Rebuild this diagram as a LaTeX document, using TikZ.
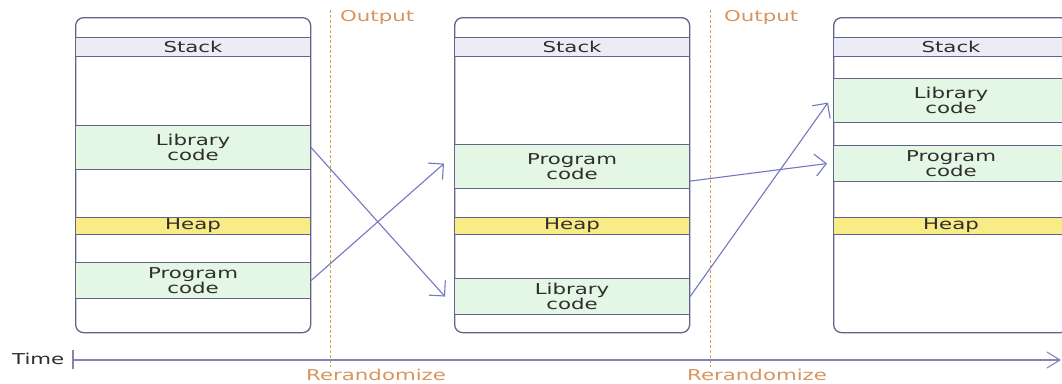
\documentclass[tikz,border=0pt]{standalone}
\usepackage{fontspec}
\setmainfont{DejaVu Sans}[FakeStretch=1.42]
\usetikzlibrary{arrows.meta}
\definecolor{boxc}{HTML}{64648A}
\definecolor{stackc}{HTML}{ECECF6}
\definecolor{greenc}{HTML}{E4F6E4}
\definecolor{heapc}{HTML}{F9EC86}
\definecolor{txtc}{HTML}{2E2E2E}
\definecolor{orangec}{HTML}{D8955E}
\definecolor{dashc}{HTML}{D6A548}
\definecolor{arrc}{HTML}{7676C4}
\definecolor{axisc}{HTML}{8484AE}
\newcommand{\bandfont}{\fontsize{15}{15.3}\selectfont}
\begin{document}
\begin{tikzpicture}[x=1pt,y=-1pt,
  membox/.style={draw=boxc, line width=1.3pt, rounded corners=8pt, fill=white,
    minimum width=235pt, minimum height=315pt, inner sep=0pt, anchor=north west},
  band/.style={draw=boxc, line width=1.1pt, minimum width=235pt, inner sep=0pt,
    anchor=north west, text=txtc, font=\bandfont, align=center},
  stackband/.style={band, fill=stackc, minimum height=19pt},
  codeband/.style={band, fill=greenc},
  heapband/.style={band, fill=heapc, minimum height=17pt},
  conn/.style={draw=arrc, line width=1.1pt, -{Straight Barb[length=11pt,width=22pt,line width=1.1pt]}},
  divider/.style={draw=dashc, line width=1.1pt, dash pattern=on 3pt off 2pt},
  orlabel/.style={text=orangec, font=\bandfont, inner sep=0pt},
  axis/.style={draw=axisc, line width=1.1pt}]
\clip (0,0) rectangle (1062,383);
\fill[white] (0,0) rectangle (1062,383);
% memory boxes
\node[membox] (m1) at (75,17) {};
\node[membox] (m2) at (454,17) {};
\node[membox] (m3) at (833,17) {};
% box 1
\node[stackband] (stack1) at (75,37) {Stack};
\node[codeband, minimum height=44pt] (lib1) at (75,125) {Library\\code};
\node[heapband] (heap1) at (75,217) {Heap};
\node[codeband, minimum height=36pt] (prog1) at (75,262) {Program\\code};
% box 2
\node[stackband] (stack2) at (454,37) {Stack};
\node[codeband, minimum height=44pt] (prog2) at (454,144) {Program\\code};
\node[heapband] (heap2) at (454,217) {Heap};
\node[codeband, minimum height=36pt] (lib2) at (454,278) {Library\\code};
% box 3
\node[stackband] (stack3) at (833,37) {Stack};
\node[codeband, minimum height=44pt] (lib3) at (833,78) {Library\\code};
\node[codeband, minimum height=36pt] (prog3) at (833,145) {Program\\code};
\node[heapband] (heap3) at (833,217) {Heap};
% dividers
\coordinate (d1t) at (330.5,10);
\coordinate (d1b) at (330.5,367);
\coordinate (d2t) at (710.5,10);
\coordinate (d2b) at (710.5,367);
\draw[divider] (d1t) -- (d1b);
\draw[divider] (d2t) -- (d2b);
\node[orlabel, anchor=west] (out1) at (340,17) {Output};
\node[orlabel, anchor=west] (out2) at (724,17) {Output};
\node[orlabel, anchor=west] (rr1) at (306,375) {Rerandomize};
\node[orlabel, anchor=west] (rr2) at (687,375) {Rerandomize};
% time axis
\node[text=txtc, font=\bandfont, inner sep=0pt, anchor=west] (time) at (12,359) {Time};
\coordinate (t0) at (73,360);
\coordinate (ttop) at (73,350);
\coordinate (tbot) at (73,369);
\coordinate (tend) at (1061,360);
\draw[axis] (ttop) -- (tbot);
\draw[axis, -{Straight Barb[length=13pt,width=16pt,line width=1.1pt]}] (t0) -- (tend);
% connectors
\draw[conn] (lib1.east) -- ([xshift=-9pt]lib2.west);
\draw[conn] (prog1.east) -- ([xshift=-10pt,yshift=3pt]prog2.west);
\draw[conn] ([yshift=8pt]prog2.south east) -- ([xshift=-6pt]prog3.west);
\draw[conn] (lib2.east) -- ([xshift=-5pt,yshift=-2pt]lib3.west);
\end{tikzpicture}
\end{document}
